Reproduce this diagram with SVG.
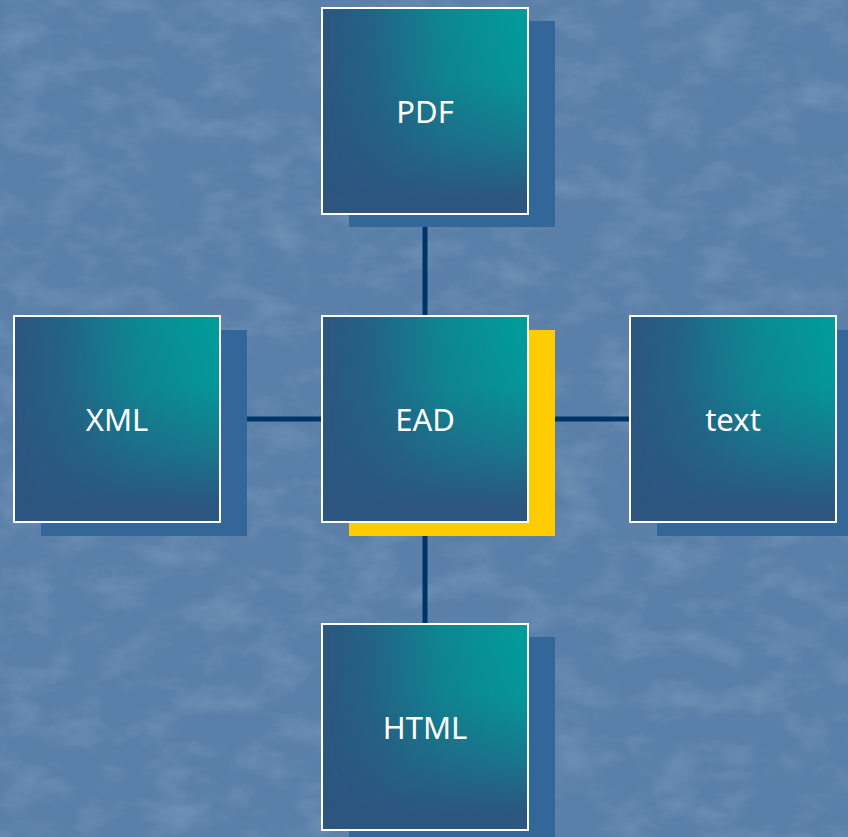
<svg xmlns="http://www.w3.org/2000/svg" width="848" height="837" viewBox="0 0 848 837">
  <defs>
    <linearGradient id="hGrad" x1="0" y1="0" x2="1" y2="0">
      <stop offset="0" stop-color="#009e9a" stop-opacity="0"/>
      <stop offset="0.25" stop-color="#009e9a" stop-opacity="0.2"/>
      <stop offset="0.6" stop-color="#009e9a" stop-opacity="0.7"/>
      <stop offset="1" stop-color="#009e9a" stop-opacity="1"/>
    </linearGradient>
    <linearGradient id="vGrad" x1="0" y1="0" x2="0" y2="1">
      <stop offset="0" stop-color="#ffffff"/>
      <stop offset="0.35" stop-color="#e6e6e6"/>
      <stop offset="0.65" stop-color="#7a7a7a"/>
      <stop offset="0.92" stop-color="#000000"/>
    </linearGradient>
    <mask id="vMask" maskContentUnits="objectBoundingBox">
      <rect x="0" y="0" width="1" height="1" fill="url(#vGrad)"/>
    </mask>
    <filter id="tex" x="0" y="0" width="100%" height="100%">
      <feTurbulence type="fractalNoise" baseFrequency="0.02 0.035" numOctaves="4" seed="3" result="n"/>
      <feColorMatrix in="n" type="matrix" values="0 0 0 0 0.5  0 0 0 0 0.64  0 0 0 0 0.8  0 0 0 1.4 -0.6"/>
    </filter>
  </defs>
  <style>
    .base { fill: #2c5680; }
    .teal { fill: url(#hGrad); }
    .frame { fill: none; stroke: #ffffff; stroke-width: 2; }
    .shadow { fill: #336699; }
    .shadow-hl { fill: #ffcc00; }
    .label { font-family: "Noto Sans", "DejaVu Sans", sans-serif; font-size: 31px; fill: #ffffff; text-anchor: middle; }
    .conn { stroke: #003366; stroke-width: 5; fill: none; }
  </style>
  <rect width="848" height="837" fill="#5a7fa8"/>
  <rect width="848" height="837" filter="url(#tex)" opacity="0.3"/>

  <g id="connectors">
    <line class="conn" x1="425" y1="214" x2="425" y2="316"/>
    <line class="conn" x1="425" y1="522" x2="425" y2="624"/>
    <line class="conn" x1="220" y1="419" x2="322" y2="419"/>
    <line class="conn" x1="528" y1="419" x2="630" y2="419"/>
  </g>

  <g id="node-pdf">
    <rect class="shadow" x="349" y="21" width="206" height="206"/>
    <rect class="base" x="322" y="8" width="206" height="206"/>
    <rect class="teal" x="322" y="8" width="206" height="206" mask="url(#vMask)"/>
    <rect class="frame" x="322" y="8" width="206" height="206"/>
    <text class="label" x="425" y="123">PDF</text>
  </g>
  <g id="node-ead">
    <rect class="shadow-hl" x="349" y="330" width="206" height="206"/>
    <rect class="base" x="322" y="316" width="206" height="206"/>
    <rect class="teal" x="322" y="316" width="206" height="206" mask="url(#vMask)"/>
    <rect class="frame" x="322" y="316" width="206" height="206"/>
    <text class="label" x="425" y="431">EAD</text>
  </g>
  <g id="node-xml">
    <rect class="shadow" x="41" y="330" width="206" height="206"/>
    <rect class="base" x="14" y="316" width="206" height="206"/>
    <rect class="teal" x="14" y="316" width="206" height="206" mask="url(#vMask)"/>
    <rect class="frame" x="14" y="316" width="206" height="206"/>
    <text class="label" x="117" y="431">XML</text>
  </g>
  <g id="node-text">
    <rect class="shadow" x="657" y="330" width="206" height="206"/>
    <rect class="base" x="630" y="316" width="206" height="206"/>
    <rect class="teal" x="630" y="316" width="206" height="206" mask="url(#vMask)"/>
    <rect class="frame" x="630" y="316" width="206" height="206"/>
    <text class="label" x="733" y="431">text</text>
  </g>
  <g id="node-html">
    <rect class="shadow" x="349" y="637" width="206" height="206"/>
    <rect class="base" x="322" y="624" width="206" height="206"/>
    <rect class="teal" x="322" y="624" width="206" height="206" mask="url(#vMask)"/>
    <rect class="frame" x="322" y="624" width="206" height="206"/>
    <text class="label" x="425" y="739">HTML</text>
  </g>
</svg>
